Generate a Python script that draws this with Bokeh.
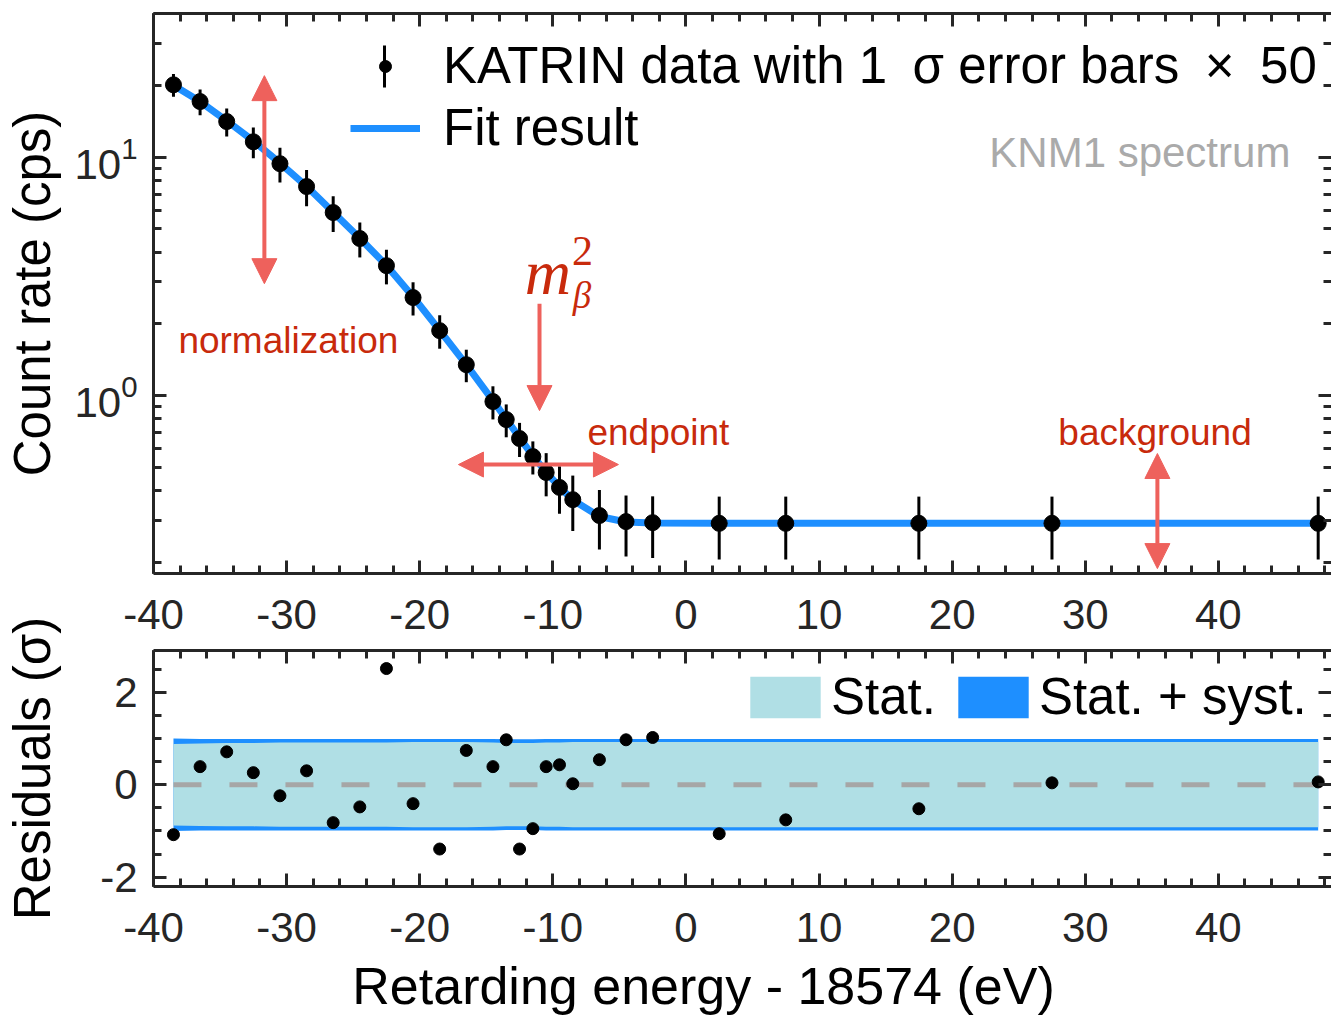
from bokeh.plotting import figure
from bokeh.models import (ColumnDataSource, Range1d, FixedTicker, LinearAxis, LogAxis,
                          Arrow, NormalHead, Label, Legend, LegendItem, BoxAnnotation,
                          CustomJSTickFormatter, LogTickFormatter)
from bokeh.layouts import column
from bokeh.embed import file_html
from bokeh.resources import INLINE

# ---------------- data ----------------
energy = [-38.5, -36.5, -34.5, -32.5, -30.5, -28.5, -26.5, -24.5, -22.5, -20.5, -18.5, -16.5,
          -14.5, -13.5, -12.5, -11.5, -10.5, -9.5, -8.5, -6.5, -4.5, -2.5, 2.5, 7.5, 17.5, 27.5, 47.5]
rate = [20.1, 17.1, 14.1, 11.6, 9.39, 7.53, 5.86, 4.56, 3.51, 2.58, 1.875, 1.35,
        0.946, 0.795, 0.662, 0.556, 0.477, 0.413, 0.367, 0.315, 0.297, 0.294, 0.292, 0.292, 0.292, 0.292, 0.292]
rate_err = [2.2, 2.1, 1.9, 1.7, 1.55, 1.3, 1.0, 0.76, 0.58, 0.41, 0.3, 0.21,
            0.15, 0.125, 0.108, 0.088, 0.098, 0.093, 0.096, 0.088, 0.085, 0.085, 0.086, 0.086, 0.086, 0.086, 0.086]
fit_rate = [20.0, 17.1, 14.2, 11.7, 9.45, 7.55, 5.88, 4.57, 3.52, 2.6, 1.88, 1.35,
            0.955, 0.8, 0.668, 0.56, 0.478, 0.415, 0.366, 0.312, 0.296, 0.293, 0.292, 0.292, 0.292, 0.292, 0.292]
residual = [-1.08, 0.39, 0.71, 0.26, -0.24, 0.30, -0.82, -0.48, 2.51, -0.41, -1.39, 0.74,
            0.39, 0.97, -1.39, -0.95, 0.39, 0.43, 0.02, 0.54, 0.97, 1.02, -1.06, -0.76, -0.52, 0.04, 0.06]
stat_band = [0.88, 0.89, 0.90, 0.90, 0.91, 0.91, 0.91, 0.91, 0.91, 0.92, 0.92, 0.92,
             0.91, 0.90, 0.90, 0.90, 0.91, 0.91, 0.92, 0.92, 0.92, 0.92, 0.92, 0.92, 0.92, 0.92, 0.92]
syst_band = [1.0, 0.99, 0.99, 0.99, 0.99, 0.99, 0.99, 0.99, 0.99, 0.99, 0.99, 0.99,
             0.99, 0.98, 0.98, 0.98, 0.99, 0.99, 0.99, 0.99, 0.99, 0.99, 0.99, 0.99, 0.99, 0.99, 0.99]
x_ticks = [-40, -30, -20, -10, 0, 10, 20, 30, 40]
x_tick_labels = ["-40", "-30", "-20", "-10", "0", "10", "20", "30", "40"]
x_minor = list(range(-40, 49, 2))
y_ticks_top = [1, 10]
y_minor_top = [0.2, 0.3, 0.4, 0.5, 0.6, 0.7, 0.8, 0.9, 2, 3, 4, 5, 6, 7, 8, 9, 20, 30, 40]
y_ticks_res = [-2, 0, 2]
y_tick_labels_res = ["-2", "0", "2"]
y_minor_res = [-2, -1.5, -1, -0.5, 0, 0.5, 1, 1.5, 2, 2.5]

DARK = "#262626"
BLUE = "#1E8FFF"
LIGHT = "#B0DFE5"
ARROW = "#EE615C"
RED_TXT = "#C82A0C"
SANS = "Liberation Sans"

src = ColumnDataSource(dict(
    x=energy, rate=rate, fit=fit_rate,
    lo=[r - e for r, e in zip(rate, rate_err)],
    hi=[r + e for r, e in zip(rate, rate_err)],
    res=residual,
    stat_lo=[-s for s in stat_band], stat_hi=stat_band,
    syst_lo=[-s for s in syst_band], syst_hi=syst_band,
))

xr = Range1d(-40, 48.5)
x_overrides = dict(zip(x_ticks, x_tick_labels))


def style_axis(ax, labels=True, line=True):
    ax.axis_line_width = 3
    ax.axis_line_color = DARK if line else None
    ax.major_tick_in = 13
    ax.major_tick_out = 0
    ax.minor_tick_in = 8
    ax.minor_tick_out = 0
    ax.major_tick_line_width = 3
    ax.minor_tick_line_width = 3
    ax.major_tick_line_color = DARK
    ax.minor_tick_line_color = DARK
    ax.major_label_text_font = SANS
    ax.major_label_text_color = DARK
    ax.axis_label_text_font = SANS
    ax.axis_label_text_font_style = "normal"
    ax.axis_label_text_font_size = "51px"
    ax.axis_label_text_color = "black"
    if labels:
        ax.major_label_text_font_size = "42px"
        ax.major_label_standoff = 18
    else:
        ax.formatter = CustomJSTickFormatter(code="return ''")
        ax.major_label_text_font_size = "0px"
        ax.major_label_standoff = 0


xt = FixedTicker(ticks=x_ticks, minor_ticks=x_minor)

# ---------------- top panel ----------------
p1 = figure(width=1331, height=575, x_range=xr, y_range=Range1d(0.18, 40), y_axis_type="log",
            output_backend="svg", toolbar_location=None,
            min_border_left=153, min_border_right=0, min_border_top=13, min_border_bottom=2)
p1.xgrid.visible = False
p1.ygrid.visible = False
p1.outline_line_color = None

yt = FixedTicker(ticks=y_ticks_top, minor_ticks=y_minor_top)
p1.xaxis.ticker = xt
p1.yaxis.ticker = yt
p1.yaxis.formatter = LogTickFormatter()
for ax in p1.yaxis:
    style_axis(ax)
for ax in p1.xaxis:
    style_axis(ax, labels=False)
p1.yaxis.axis_label = "Count rate (cps)"
p1.yaxis.major_label_standoff = 16
p1.yaxis.axis_label_standoff = 10

top_ax = LinearAxis(ticker=xt)
style_axis(top_ax, labels=False)
p1.add_layout(top_ax, "above")
right_ax = LogAxis(ticker=yt)
style_axis(right_ax, labels=False, line=False)
p1.add_layout(right_ax, "right")

p1.segment(x0="x", y0="lo", x1="x", y1="hi", source=src, line_color="black", line_width=3)
r_fit = p1.line("x", "fit", source=src, line_color=BLUE, line_width=7)
r_dots = p1.scatter("x", "rate", source=src, size=16, color="black")


def arrow(fig, x0, y0, x1, y1, both=True):
    fig.add_layout(Arrow(
        start=NormalHead(size=25, fill_color=ARROW, line_color=ARROW) if both else None,
        end=NormalHead(size=25, fill_color=ARROW, line_color=ARROW),
        x_start=x0, y_start=y0, x_end=x1, y_end=y1,
        line_color=ARROW, line_width=4))


arrow(p1, -31.67, 2.95, -31.67, 21.96)            # normalization
arrow(p1, -11.0, 2.43, -11.0, 0.867, both=False)  # m_beta^2
arrow(p1, -17.09, 0.515, -5.07, 0.515)            # endpoint
arrow(p1, 35.42, 0.1887, 35.42, 0.573)            # background

for txt, x, y in [("normalization", -38.13, 1.70), ("endpoint", -7.40, 0.701),
                  ("background", 27.98, 0.701)]:
    p1.add_layout(Label(x=x, y=y, text=txt, text_font=SANS, text_font_size="37px",
                        text_color=RED_TXT, text_baseline="middle", text_align="left"))

p1.add_layout(Label(x=45.41, y=10.45, text="KNM1 spectrum", text_font=SANS, text_font_size="42px",
                    text_color="#AAAAAA", text_baseline="middle", text_align="right"))

p1.add_layout(Label(x=-12.1, y=3.28, text="m", text_font="Liberation Serif",
                    text_font_style="italic", text_font_size="64px", text_color=RED_TXT,
                    text_baseline="alphabetic"))
p1.add_layout(Label(x=-8.5, y=2.62, text="β", text_font="Liberation Serif",
                    text_font_style="italic", text_font_size="37px", text_color=RED_TXT,
                    text_baseline="alphabetic"))
p1.add_layout(Label(x=-8.55, y=4.06, text="2", text_font="Liberation Serif",
                    text_font_size="42px", text_color=RED_TXT, text_baseline="alphabetic"))

leg1 = Legend(items=[LegendItem(label="KATRIN data with 1\u2002σ error bars\u2002×\u200250",
                                renderers=[r_dots]),
                     LegendItem(label="Fit result", renderers=[r_fit])],
              location=(197, 416), glyph_width=70, glyph_height=30, label_standoff=23,
              label_text_font=SANS, label_text_font_size="51px", label_text_color="black",
              spacing=3, padding=0, margin=0, border_line_color=None, background_fill_alpha=0)
p1.add_layout(leg1)
# error-bar stroke of the legend sample
p1.add_layout(BoxAnnotation(left=229.5, right=232.5, top=528, bottom=486,
                            left_units="screen", right_units="screen",
                            top_units="screen", bottom_units="screen",
                            fill_color="black", fill_alpha=1, line_alpha=0))

# ---------------- residual panel ----------------
p2 = figure(width=1331, height=443, x_range=xr, y_range=Range1d(-2.2, 2.9),
            output_backend="svg", toolbar_location=None,
            min_border_left=153, min_border_right=0, min_border_top=75, min_border_bottom=132)
p2.xgrid.visible = False
p2.ygrid.visible = False
p2.outline_line_color = None
yt2 = FixedTicker(ticks=y_ticks_res, minor_ticks=y_minor_res)
p2.xaxis.ticker = xt
p2.yaxis.ticker = yt2
for ax in p2.xaxis + p2.yaxis:
    style_axis(ax)
p2.xaxis.major_label_overrides = x_overrides
p2.xaxis.major_label_standoff = 26
p2.yaxis.major_label_overrides = dict(zip(y_ticks_res, y_tick_labels_res))
# trailing en spaces shift the centred title slightly left, as in the reference
p2.xaxis.axis_label = "Retarding energy - 18574 (eV)\u2002\u2002\u2002"
p2.xaxis.axis_label_text_font_size = "52px"
p2.xaxis.axis_label_standoff = 12
p2.yaxis.axis_label = "Residuals (σ)"
p2.yaxis.major_label_standoff = 16
p2.yaxis.axis_label_standoff = 36

# the upper axis of the residual panel carries the tick labels shown between the panels
top_ax2 = LinearAxis(ticker=xt)
style_axis(top_ax2)
top_ax2.major_label_overrides = x_overrides
top_ax2.major_label_standoff = 22
p2.add_layout(top_ax2, "above")
right_ax2 = LinearAxis(ticker=yt2)
style_axis(right_ax2, labels=False, line=False)
p2.add_layout(right_ax2, "right")

r_syst = p2.varea(x="x", y1="syst_lo", y2="syst_hi", source=src, fill_color=BLUE)
r_stat = p2.varea(x="x", y1="stat_lo", y2="stat_hi", source=src, fill_color=LIGHT)
p2.line([energy[0], energy[-1]], [0, 0], line_color="#A6A6A6", line_width=5, line_dash="28 28")
p2.scatter("x", "res", source=src, size=12, color="black")

leg2 = Legend(items=[LegendItem(label="Stat.", renderers=[r_stat]),
                     LegendItem(label="Stat. + syst.", renderers=[r_syst])],
              orientation="horizontal", location=(588, 160), glyph_width=88, glyph_height=52,
              label_standoff=2, spacing=13, label_text_font=SANS, label_text_font_size="51px",
              label_text_color="black", padding=0, margin=0, border_line_color=None,
              background_fill_alpha=0)
p2.add_layout(leg2)

layout = column(p1, p2, spacing=0)
open("out.html", "w").write(file_html(layout, INLINE))
